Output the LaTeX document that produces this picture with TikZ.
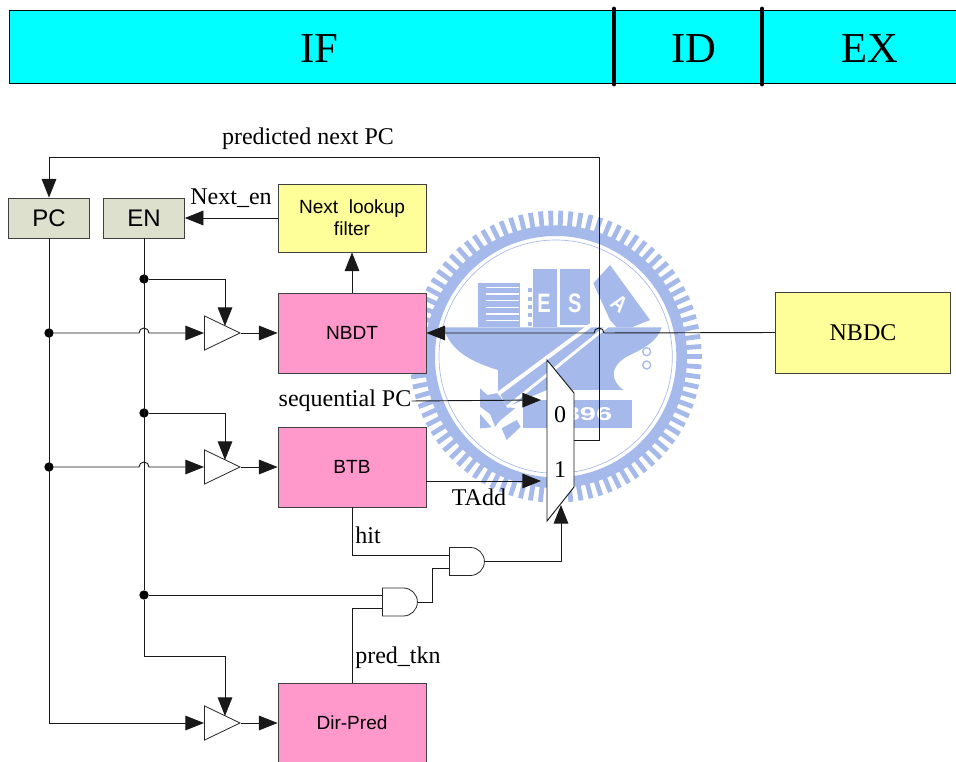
\documentclass[tikz,border=0pt]{standalone}
\usepackage{fontspec}
\setmainfont{Liberation Serif}
\setsansfont{Liberation Sans}
\usetikzlibrary{arrows.meta,shapes.gates.logic.US}
\definecolor{stagecyan}{HTML}{00FFFF}
\definecolor{regbox}{HTML}{DDE0CC}
\definecolor{filterbox}{HTML}{FFFF99}
\definecolor{tablebox}{HTML}{FF99CC}
\definecolor{crest}{HTML}{A5B9EA}
\tikzset{
  wire/.style={line width=0.7pt, draw=black!90},
  sig/.style={wire, -{Triangle[length=14pt,width=11pt]}},
  unit/.style={draw=black!75, line width=0.7pt, inner sep=0pt, align=center, font=\sffamily\fontsize{14.3}{16.5}\selectfont},
  reg/.style={unit, fill=regbox, minimum width=60.5pt, minimum height=30pt, font=\sffamily\fontsize{18}{20}\selectfont},
  table/.style={unit, fill=tablebox, minimum width=111pt, minimum height=60pt},
  filter/.style={unit, fill=filterbox},
  lbl/.style={font=\fontsize{18}{20}\selectfont, inner sep=0pt},
  stage/.style={font=\fontsize{32}{36}\selectfont, inner sep=0pt},
  crestlabel/.style={white, font=\sffamily\bfseries\fontsize{20}{20}\selectfont},
  junction/.style={circle, fill=black, inner sep=0pt, minimum size=7pt},
  buf/.style={buffer gate US, draw=black!85, fill=white, line width=0.6pt, logic gate inputs=n, inner sep=0pt, minimum width=20pt, minimum height=22pt, anchor=west},
  andg/.style={and gate US, draw=black!85, fill=white, line width=0.6pt, logic gate inputs=nn, inner sep=0pt, logic gate input sep=7pt, anchor=west},
}
\begin{document}
\begin{tikzpicture}[x=0.75pt, y=-0.75pt]
  \useasboundingbox (0,0) rectangle (956,762);

  % crest behind the circuit
  \begin{scope}[shift={(400,210)}, x=0.25pt, y=-0.25pt]
    \foreach \a in {0,4,...,356} {
      \draw[crest, line width=3.6pt] (467,440) ++(\a:388) -- ++(\a:50);
    }
    \draw[crest, line width=8pt] (467,440) circle (378);
    \draw[crest, line width=0.5pt] (467,440) circle (350);
    % hull
    \fill[crest] (130,352) -- (785,352) .. controls (770,400) and (720,420) .. (680,440) .. controls (630,470) and (630,510) .. (670,540) -- (294,540)
      -- (294,480) .. controls (210,455) and (150,420) .. (130,352) -- cycle;
    % books
    \fill[crest] (235,220) rectangle (360,352);
    \foreach \y in {232,252,...,332} {
      \draw[white, line width=1pt] (258,\y) -- (358,\y);
    }
    \foreach \y in {235,260,...,335} {
      \fill[crest] (385,\y) rectangle (395,\y+12);
    }
    \fill[crest] (398,178) rectangle (470,352);
    \fill[crest] (480,178) rectangle (570,345);
    \fill[crest] (580,220) -- (630,165) -- (750,330) -- (695,352) -- (650,352) -- (630,330) -- cycle;
    \node[crestlabel, xscale=0.75] (crestE) at (432,280) {E};
    \node[crestlabel, xscale=0.75] (crestS) at (524,280) {S};
    \node[crestlabel, rotate=-38, xscale=0.85, font=\sffamily\bfseries\fontsize{17}{20}\selectfont] (crestA) at (658,280) {A};
    % wrench
    \fill[crest] (240,535) -- (262,555) -- (294,549) -- (321,591) -- (345,595) -- (300,632) -- (285,650) -- (270,612) -- (240,590) -- cycle;
    \fill[crest] (240,612) -- (275,652) -- (240,655) -- cycle;
    \fill[crest] (305,655) -- (350,630) -- (362,650) -- (320,690) -- cycle;
    \fill[crest] (294,540) -- (440,540) -- (321,591) -- cycle;
    \draw[white, line width=3pt] (294,552) -- (600,325);
    \draw[white, line width=2.2pt] (321,591) -- (630,342);
    \draw[white, line width=2.2pt] (600,325) -- (630,342);
    \fill[crest] (370,570) rectangle (695,655);
    \node[white, xscale=1.55, font=\sffamily\bfseries\fontsize{14}{18}\selectfont] (crestyear) at (540,612) {1896};
    \draw[crest, line width=1pt] (740,425) circle (12);
    \draw[crest, line width=1pt] (740,465) circle (12);
  \end{scope}

  % pipeline stages
  \node[draw=black, fill=stagecyan, line width=0.7pt, minimum width=711pt, minimum height=54.75pt, inner sep=0pt, anchor=north west] (stagebar) at (9,10) {};
  \node[stage] (ifstage) at (319,49) {IF};
  \node[stage] (idstage) at (694,49) {ID};
  \node[stage] (exstage) at (870,49) {EX};
  \draw[line width=3.6pt, line cap=round] (614,9) -- (614,84);
  \draw[line width=3.6pt, line cap=round] (762,9) -- (762,84);

  % blocks
  \node[reg] (pc) at (49,218) {PC};
  \node[reg] (en) at (144,218) {EN};
  \node[filter, minimum width=111pt, minimum height=51pt] (nextfilter) at (352,218) {Next\ \ lookup\\filter};
  \node[table] (nbdt) at (352,333) {NBDT};
  \node[table] (btb) at (352,467) {BTB};
  \node[table] (dirpred) at (352,723) {Dir-Pred};
  \node[filter, minimum width=131pt, minimum height=60.75pt, font=\fontsize{18}{20}\selectfont] (nbdc) at (863,332.5) {NBDC};

  % tri-state buffers
  \node[buf] (buf1) at (204,333) {};
  \node[buf] (buf2) at (204,467) {};
  \node[buf] (buf3) at (204,723) {};
  \coordinate (buf1en) at (225,326);
  \coordinate (buf2en) at (225,460);
  \coordinate (buf3en) at (225,716);

  % and gates
  \node[andg] (and1) at (382,602) {};
  \node[andg] (and2) at (449,561.5) {};
  \coordinate (and1a) at (382,595);
  \coordinate (and1b) at (382,608);
  \coordinate (and2a) at (449,555);
  \coordinate (and2b) at (449,568);

  % mux
  \draw[wire, fill=white] (547,360) -- (574,393) -- (574,487) -- (547,521) -- cycle;
  \node[lbl] (mux0) at (560,415) {0};
  \node[lbl] (mux1) at (560,470) {1};
  \coordinate (muxin0) at (541,400);
  \coordinate (muxin1) at (541,481);
  \coordinate (muxsel) at (561,505);
  \coordinate (muxout) at (574,440);
  \coordinate (fbturn) at (599,157);

  % labels
  \node[lbl] (predlabel) at (308,139) {predicted next PC};
  \node[lbl] (nextenlabel) at (231,198) {Next\_en};
  \node[lbl] (seqlabel) at (345,401) {sequential PC};
  \node[lbl] (taddlabel) at (479,497) {TAdd};
  \node[lbl] (hitlabel) at (368,535) {hit};
  \node[lbl] (tknlabel) at (398,658) {pred\_tkn};

  % junctions
  \node[junction] (pcnbdt) at (49,333) {};
  \node[junction] (pcbtb) at (49,467) {};
  \node[junction] (ennbdt) at (144,279) {};
  \node[junction] (enbtb) at (144,413) {};
  \node[junction] (enand) at (144,595) {};
  \coordinate (enturn) at (225,656);

  % PC side
  \draw[sig] (pc.south) |- (buf3.west);
  \draw[sig] (pcnbdt) -- (139,333) arc (180:360:5) -- (buf1.west);
  \draw[sig] (pcbtb) -- (139,467) arc (180:360:5) -- (buf2.west);
  \draw[sig] (muxout) -| (fbturn) -| (pc.north);

  % EN side
  \draw[wire] (en.south) -- (enand);
  \draw[sig] (enand) |- (enturn) -- (buf3en);
  \draw[sig] (ennbdt) -| (buf1en);
  \draw[sig] (enbtb) -| (buf2en);
  \draw[wire] (enand) -- (and1a);
  \draw[sig] (nextfilter.west) -- (en.east);

  % lookups
  \draw[sig] (buf1.east) -- (nbdt.west);
  \draw[sig] (buf2.east) -- (btb.west);
  \draw[sig] (buf3.east) -- (dirpred.west);
  \draw[sig] (nbdt.north) -- (nextfilter.south);
  \draw[sig] (nbdc.west) -- (604,333) arc (360:180:5) -- (nbdt.east);
  \draw[sig] (seqlabel.east) -- (muxin0);
  \draw[sig] (btb.east |- muxin1) -- (muxin1);

  % taken logic
  \draw[wire] (btb.south) |- (and2a);
  \draw[wire] (dirpred.north) |- (and1b);
  \draw[wire] (and1.east) -- ++(15,0) |- (and2b);
  \draw[sig] (and2.east) -| (muxsel);
\end{tikzpicture}
\end{document}
